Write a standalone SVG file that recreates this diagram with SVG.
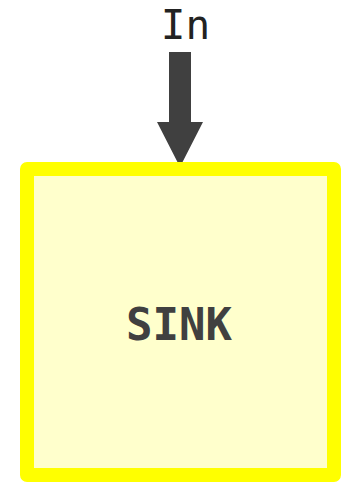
<svg xmlns="http://www.w3.org/2000/svg" width="341" height="482" viewBox="0 0 341 482">
<style>
.node rect{fill:#ffffcc;stroke:#ffff00;stroke-width:14;stroke-linejoin:round}
.lbl{font-family:"DejaVu Sans Mono",monospace;text-anchor:middle}
</style>
<rect width="341" height="482" fill="#ffffff"/>
<g id="edges">
<text class="lbl" x="185.5" y="38.5" font-size="41" fill="#222222">In</text>
<polygon points="169,52 191,52 191,122 203,122 180,167 157,122 169,122" fill="#404040"/>
</g>
<g id="sink" class="node">
<rect x="27" y="169" width="307" height="306"/>
<text class="lbl" x="179" y="339.5" font-size="44" font-weight="bold" fill="#404040">SINK</text>
</g>
</svg>
